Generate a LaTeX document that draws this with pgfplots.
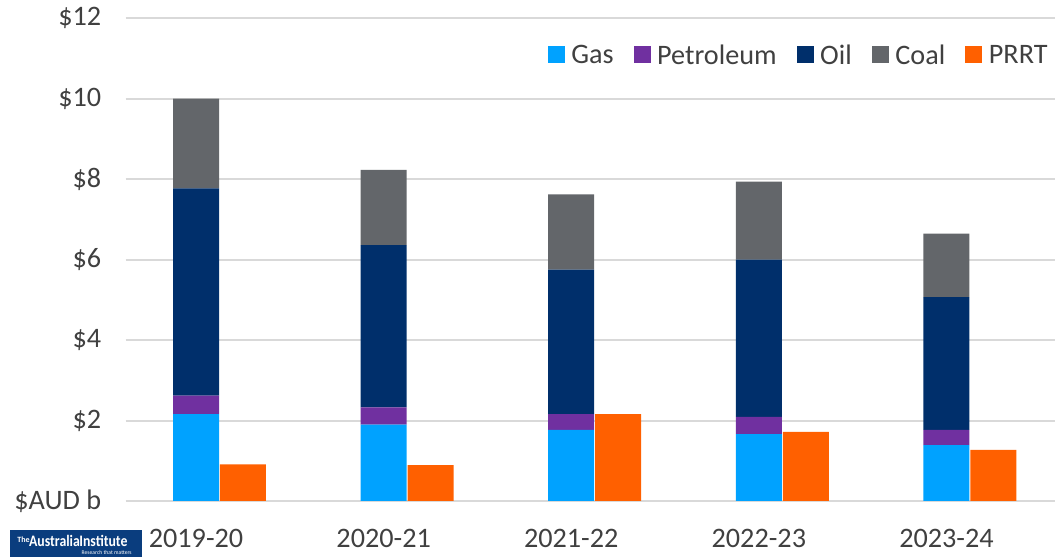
\documentclass[border=0pt]{standalone}
\usepackage{pgfplots}
\pgfplotsset{compat=1.18}
\usepackage{fontspec}
\setmainfont{Carlito}
\definecolor{gas}{HTML}{00A2FF}
\definecolor{petrol}{HTML}{7030A0}
\definecolor{oil}{HTML}{002F6B}
\definecolor{coal}{HTML}{63666A}
\definecolor{prrt}{HTML}{FF6000}
\definecolor{txt}{HTML}{404040}
\definecolor{gridc}{HTML}{D9D9D9}
\definecolor{logoc}{HTML}{0A3D7E}
\begin{document}
\begin{tikzpicture}[x=1pt,y=1pt]
\path[use as bounding box] (0,0) rectangle (527.5,278.5);
\pgfplotsset{
  base/.style={
    scale only axis, width=469pt, height=241.35pt,
    at={(62.85pt,28pt)}, anchor=south west,
    xmin=-0.5, xmax=4.5, ymin=0, ymax=12,
    bar width=23pt,
  },
  sq/.style={legend image code/.code={\fill[##1] (0pt,-3.6pt) rectangle (8.5pt,4.9pt);}},
}
\begin{axis}[base, ybar stacked,
  axis line style={draw=none}, major tick style={draw=none},
  ymajorgrids, grid style={gridc, line width=1pt},
  xtick={-0.125,0.875,1.875,2.875,3.875},
  xticklabels={2019-20,2020-21,2021-22,2022-23,2023-24},
  ytick={0,2,4,6,8,10,12},
  yticklabels={\$AUD b,\$2,\$4,\$6,\$8,\$10,\$12},
  tick label style={font=\fontsize{14.1}{16}\selectfont, text=txt},
  xticklabel style={yshift=-10.6pt},
  yticklabel style={xshift=-8.7pt},
]
\addplot[fill=gas, draw=none] coordinates {(-0.125,2.16) (0.875,1.90) (1.875,1.77) (2.875,1.66) (3.875,1.39)};
\addplot[fill=petrol, draw=none] coordinates {(-0.125,0.46) (0.875,0.43) (1.875,0.39) (2.875,0.43) (3.875,0.38)};
\addplot[fill=oil, draw=none] coordinates {(-0.125,5.15) (0.875,4.03) (1.875,3.59) (2.875,3.91) (3.875,3.30)};
\addplot[fill=coal, draw=none] coordinates {(-0.125,2.23) (0.875,1.87) (1.875,1.87) (2.875,1.94) (3.875,1.58)};
\end{axis}
\begin{axis}[base, ybar, hide axis,
  legend style={at={(0.9875,0.922)}, anchor=east, draw=none, fill=none,
    legend columns=-1, font=\fontsize{14.1}{16}\selectfont, text=txt,
    inner xsep=0pt, inner ysep=0pt,
    /tikz/every odd column/.append style={column sep=1.3pt},
    /tikz/every even column/.append style={column sep=8pt}},
]
\addlegendimage{sq, fill=gas, draw=none}\addlegendentry{Gas}
\addlegendimage{sq, fill=petrol, draw=none}\addlegendentry{Petroleum}
\addlegendimage{sq, fill=oil, draw=none}\addlegendentry{Oil}
\addlegendimage{sq, fill=coal, draw=none}\addlegendentry{Coal}
\addplot[sq, fill=prrt, draw=none] coordinates {(0.125,0.91) (1.125,0.89) (2.125,2.16) (3.125,1.72) (4.125,1.27)};
\addlegendentry{PRRT}
\end{axis}
\fill[logoc] (5,0) rectangle (71,13.5);
\node[white, anchor=west, inner sep=0pt, font=\fontsize{8}{8}\selectfont\bfseries] at (8.5,8.2) {\raisebox{2pt}{\fontsize{4}{4}\selectfont The}\kern-0.3pt\scalebox{0.86}[1]{Australia\kern-0.3pt Institute}};
\node[white, anchor=east, inner sep=0pt, font=\fontsize{2.8}{3}\selectfont] at (66,2.3) {Research that matters};
\end{tikzpicture}
\end{document}
